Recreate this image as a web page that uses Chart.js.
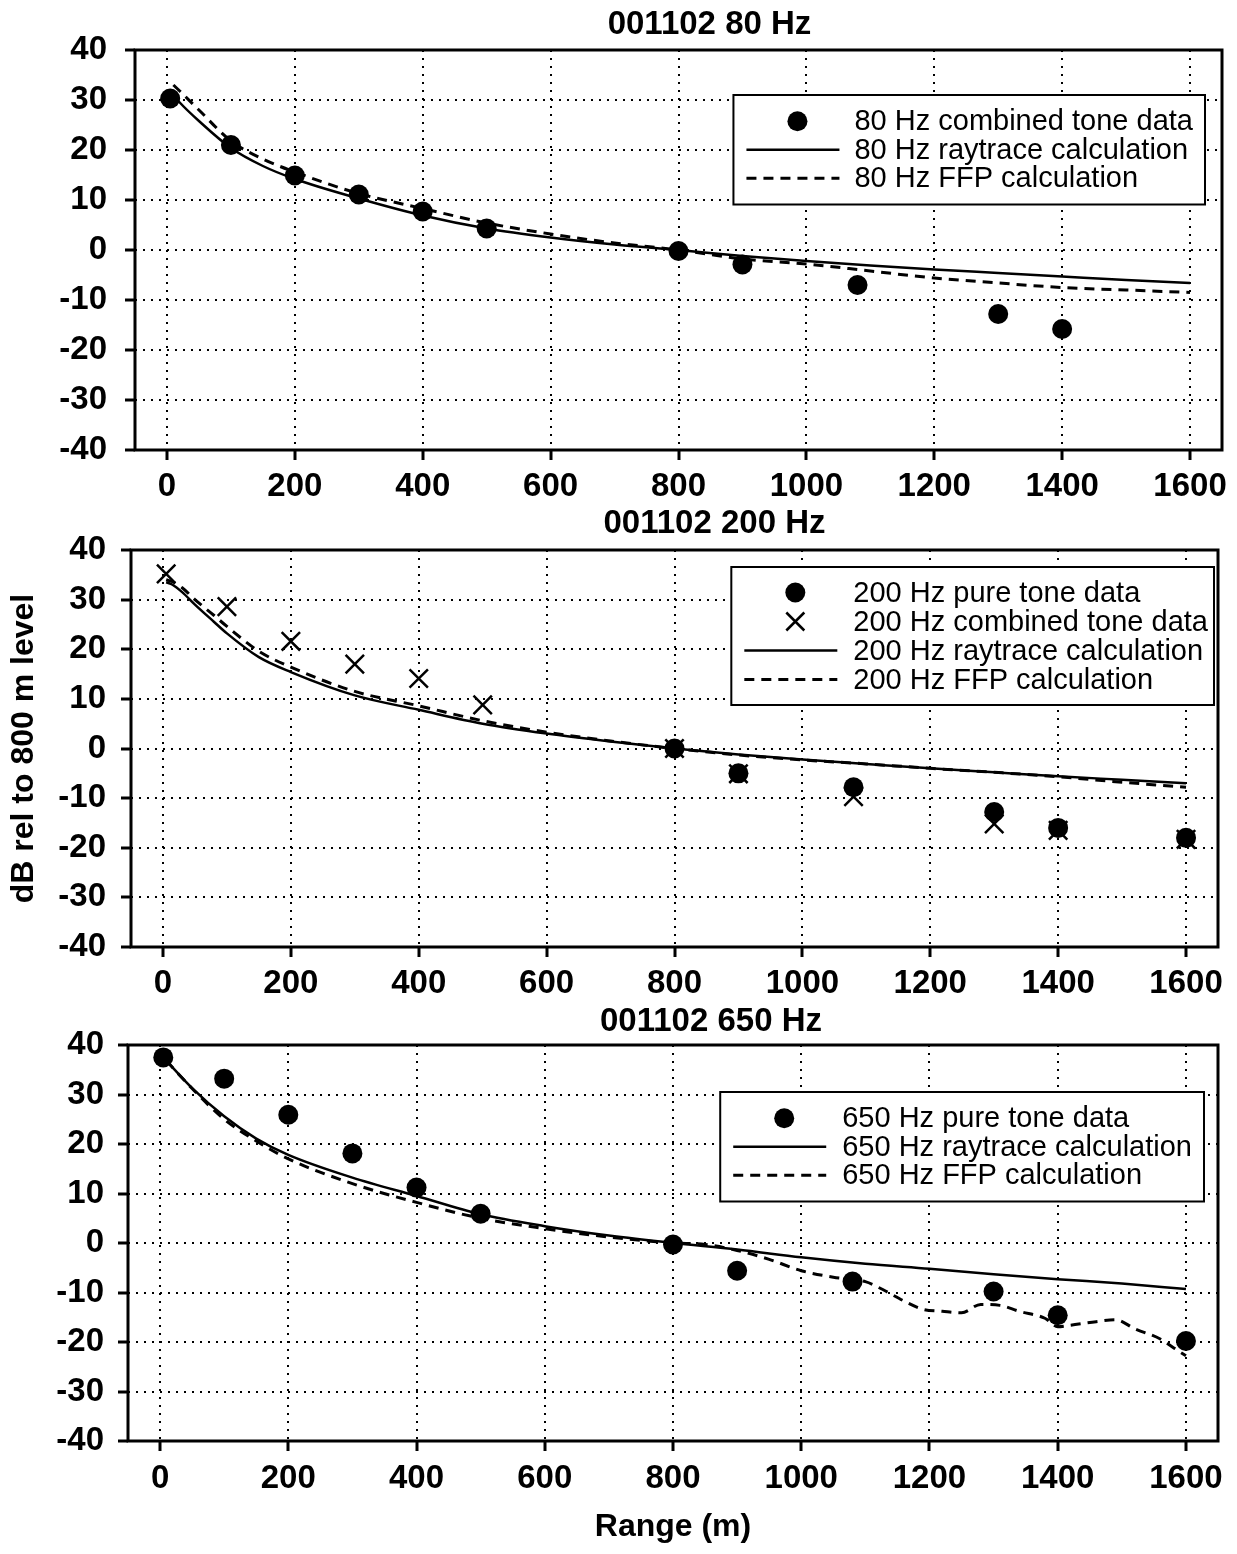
<!DOCTYPE html>
<html>
<head>
<meta charset="utf-8">
<script src="https://cdn.jsdelivr.net/npm/chart.js@4.4.0/dist/chart.umd.min.js"></script>
<style>
  body { margin: 0; background: #fff; }
  #wrap { position: relative; width: 1237px; height: 1554px; }
  canvas { position: absolute; left: 0; }
</style>
</head>
<body>
<div id="wrap">
  <canvas id="c80" width="1237" height="500" style="top:0px"></canvas>
  <canvas id="c200" width="1237" height="498" style="top:500px"></canvas>
  <canvas id="c650" width="1237" height="556" style="top:998px"></canvas>
</div>
<script>
var xTicks = [0, 200, 400, 600, 800, 1000, 1200, 1400, 1600]
var yTicks = [-40, -30, -20, -10, 0, 10, 20, 30, 40]

// 80 Hz
var comb80X = [5, 100, 200, 300, 400, 500, 800, 900, 1080, 1300, 1400]
var comb80Y = [30.3, 21, 14.9, 11.1, 7.7, 4.3, -0.2, -2.9, -7, -12.8, -15.8]
var ray80X = [5, 20, 50, 100, 150, 200, 300, 400, 500, 600, 700, 800, 900, 1000, 1100, 1200, 1300, 1400, 1500, 1600]
var ray80Y = [31.8, 29.5, 25.8, 20.4, 16.8, 14.2, 10.3, 6.9, 4.3, 2.5, 1.1, 0, -1.2, -2.2, -3.1, -3.9, -4.6, -5.3, -6, -6.6]
var ffp80X = [10, 20, 50, 100, 150, 200, 300, 400, 500, 600, 700, 800, 900, 1000, 1100, 1200, 1300, 1400, 1500, 1600]
var ffp80Y = [33, 31.8, 28, 21.8, 18.2, 15.6, 11.3, 8.3, 5.4, 3.2, 1.4, 0, -1.8, -2.8, -4.2, -5.6, -6.6, -7.5, -8, -8.5]

// 200 Hz
var pure200X = [800, 900, 1080, 1300, 1400, 1600]
var pure200Y = [0, -5, -7.8, -12.8, -16, -18]
var comb200X = [5, 100, 200, 300, 400, 500, 800, 900, 1080, 1300, 1400, 1600]
var comb200Y = [35.2, 28.6, 21.6, 17, 14.1, 8.8, 0, -5.1, -9.7, -15.2, -16.5, -18.3]
var ray200X = [5, 15, 30, 50, 80, 100, 150, 200, 300, 400, 500, 600, 700, 800, 900, 1000, 1100, 1200, 1300, 1400, 1500, 1600]
var ray200Y = [33.5, 33, 31.5, 29, 25.5, 23.2, 18.4, 15.4, 10.7, 7.8, 5, 3, 1.4, 0, -1.2, -2.2, -3.1, -4, -4.8, -5.6, -6.3, -7]
var ffp200X = [5, 15, 30, 50, 80, 100, 150, 200, 300, 400, 500, 600, 700, 800, 900, 1000, 1100, 1200, 1300, 1400, 1500, 1600]
var ffp200Y = [34, 33.6, 32.4, 30, 26.8, 24.6, 19.6, 16.4, 11.5, 8.6, 5.6, 3.3, 1.5, 0, -1.3, -2.3, -3.1, -4, -4.8, -5.7, -6.8, -7.8]

// 650 Hz
var pure650X = [5, 100, 200, 300, 400, 500, 800, 900, 1080, 1300, 1400, 1600]
var pure650Y = [37.5, 33.2, 25.9, 18.1, 11.2, 5.9, -0.3, -5.6, -7.8, -9.8, -14.6, -19.8]
var ray650X = [10, 50, 100, 150, 200, 300, 400, 500, 600, 700, 800, 900, 1000, 1100, 1200, 1300, 1400, 1500, 1600]
var ray650Y = [36.8, 31.3, 25.6, 21.1, 17.8, 13.2, 9.5, 5.8, 3.4, 1.5, 0, -1.3, -2.9, -4.2, -5.2, -6.3, -7.3, -8.2, -9.3]
var ffp650X = [10, 50, 100, 150, 200, 300, 400, 500, 600, 700, 800, 850, 900, 950, 1000, 1050, 1100, 1130, 1160, 1190, 1220, 1250, 1280, 1310, 1340, 1380, 1400, 1420, 1460, 1490, 1520, 1560, 1580, 1600]
var ffp650Y = [36.8, 31.2, 25, 20.6, 17, 12, 8.2, 5, 2.9, 1.2, 0, -0.3, -1.5, -3.3, -5.6, -6.9, -7.8, -9.6, -11.7, -13.4, -13.8, -14.1, -12.4, -12.6, -13.8, -15.2, -16.9, -16.6, -15.9, -15.5, -17.3, -19.4, -21.1, -22.8]

var FONT = '"Liberation Sans", Arial, Helvetica, sans-serif'

function pts(xs, ys) {
    return xs.map((x, i) => ({ x: x, y: ys[i] }))
}

function dots(label, xs, ys) {
    return { label: label, data: pts(xs, ys), showLine: false, pointStyle: 'circle',
        pointRadius: 10, backgroundColor: '#000', borderColor: '#000', borderWidth: 0 }
}
function crosses(label, xs, ys) {
    return { label: label, data: pts(xs, ys), showLine: false, pointStyle: 'crossRot',
        pointRadius: 13, backgroundColor: '#000', borderColor: '#000', borderWidth: 2.5 }
}
function curve(label, xs, ys, dashed) {
    return { label: label, data: pts(xs, ys), showLine: true, pointRadius: 0,
        borderColor: '#000', borderWidth: dashed ? 3 : 2.5, borderDash: dashed ? [10, 7] : [],
        cubicInterpolationMode: 'monotone', fill: false }
}

// box round the plot
const frame = {
    id: 'frame',
    afterDatasetsDraw(chart) {
        const { ctx, chartArea: a } = chart
        ctx.save()
        ctx.lineWidth = 3
        ctx.strokeStyle = '#000'
        ctx.strokeRect(a.left, a.top, a.right - a.left, a.bottom - a.top)
        ctx.restore()
    }
}

const panelTitle = {
    id: 'panelTitle',
    afterDraw(chart, args, o) {
        const { ctx, chartArea: a } = chart
        ctx.save()
        ctx.font = 'bold 33px ' + FONT
        ctx.fillStyle = '#000'
        ctx.textAlign = 'center'
        ctx.textBaseline = 'middle'
        ctx.fillText(o.text, (a.left + a.right) / 2 + o.dx, o.y)
        ctx.restore()
    }
}

// legend in a box inside the plot
const boxLegend = {
    id: 'boxLegend',
    afterDraw(chart, args, o) {
        const { ctx, chartArea: a } = chart
        const sets = chart.data.datasets
        ctx.save()
        ctx.font = '29px ' + FONT
        let tw = 0
        sets.forEach(d => { tw = Math.max(tw, ctx.measureText(d.label).width) })
        const w = o.textX + tw + o.padR
        const h = sets.length * o.rowH + o.padV
        const right = a.right - o.right
        const top = a.top + o.top
        const left = right - w
        ctx.fillStyle = '#fff'
        ctx.fillRect(left, top, w, h)
        ctx.lineWidth = 2
        ctx.strokeStyle = '#000'
        ctx.strokeRect(left, top, w, h)
        sets.forEach((d, i) => {
            const cy = top + o.padV / 2 + o.rowH * (i + 0.5)
            ctx.strokeStyle = '#000'
            ctx.fillStyle = '#000'
            if (d.showLine) {
                ctx.lineWidth = d.borderWidth
                ctx.setLineDash(d.borderDash || [])
                ctx.beginPath()
                ctx.moveTo(left + 13, cy)
                ctx.lineTo(left + 106, cy)
                ctx.stroke()
                ctx.setLineDash([])
            } else if (d.pointStyle === 'circle') {
                ctx.beginPath()
                ctx.arc(left + 64, cy, 10, 0, Math.PI * 2)
                ctx.fill()
            } else {
                ctx.lineWidth = 2.5
                ctx.beginPath()
                ctx.moveTo(left + 55, cy - 9); ctx.lineTo(left + 73, cy + 9)
                ctx.moveTo(left + 73, cy - 9); ctx.lineTo(left + 55, cy + 9)
                ctx.stroke()
            }
            ctx.textAlign = 'left'
            ctx.textBaseline = 'middle'
            ctx.fillText(d.label, left + o.textX, cy + 1)
        })
        ctx.restore()
    }
}

function makeChart(id, datasets, cfg) {
    var ctx = document.getElementById(id)
    return new Chart(ctx, {
        type: 'scatter',
        data: { datasets: datasets },
        plugins: [frame, panelTitle, boxLegend],
        options: {
            responsive: false,
            animation: false,
            events: [],
            layout: { padding: { top: cfg.top, left: 0, right: 1237 - cfg.right, bottom: 0 } },
            plugins: {
                legend: { display: false },
                tooltip: { enabled: false },
                panelTitle: { text: cfg.title, dx: cfg.titleDx, y: cfg.titleY },
                boxLegend: cfg.legend
            },
            scales: {
                x: {
                    type: 'linear', min: -50, max: 1650,
                    afterBuildTicks: s => { s.ticks = xTicks.map(v => ({ value: v })) },
                    afterFit: s => { s.height = cfg.h - cfg.bottom },
                    grid: { color: '#000', lineWidth: 2, tickLength: 10, tickWidth: 3,
                        tickColor: '#000', tickBorderDash: [] },
                    border: { display: false, dash: [2, 6] },
                    ticks: { color: '#000', padding: cfg.xPad, maxRotation: 0, autoSkip: false,
                        callback: v => String(v),
                        font: { family: FONT, size: 33, weight: 'bold' } },
                    title: cfg.xTitle ? { display: true, text: cfg.xTitle, color: '#000',
                        padding: { top: 0, bottom: 8 }, font: { family: FONT, size: 32, weight: 'bold' } }
                        : { display: false }
                },
                y: {
                    type: 'linear', min: -40, max: 40,
                    afterBuildTicks: s => { s.ticks = yTicks.map(v => ({ value: v })) },
                    afterFit: s => { s.width = cfg.left },
                    grid: { color: '#000', lineWidth: 2, tickLength: 10, tickWidth: 3,
                        tickColor: '#000', tickBorderDash: [] },
                    border: { display: false, dash: [2, 6] },
                    ticks: { color: '#000', padding: cfg.yPad, callback: v => String(v),
                        font: { family: FONT, size: 33, weight: 'bold' } },
                    title: cfg.yTitle ? { display: true, text: cfg.yTitle, color: '#000',
                        padding: { top: 5, bottom: 0 }, font: { family: FONT, size: 32, weight: 'bold' } }
                        : { display: false }
                }
            }
        }
    })
}

makeChart('c80', [
    dots('80 Hz combined tone data', comb80X, comb80Y),
    curve('80 Hz raytrace calculation', ray80X, ray80Y, false),
    curve('80 Hz FFP calculation', ffp80X, ffp80Y, true)
], { h: 500, top: 50, bottom: 450, left: 135, right: 1222, xPad: 7, yPad: 18,
    title: '001102 80 Hz', titleDx: 31, titleY: 25,
    legend: { right: 17, top: 45, rowH: 28.5, padV: 24, textX: 121, padR: 12 } })

makeChart('c200', [
    dots('200 Hz pure tone data', pure200X, pure200Y),
    crosses('200 Hz combined tone data', comb200X, comb200Y),
    curve('200 Hz raytrace calculation', ray200X, ray200Y, false),
    curve('200 Hz FFP calculation', ffp200X, ffp200Y, true)
], { h: 498, top: 50, bottom: 447, left: 131, right: 1218, xPad: 7, yPad: 15,
    title: '001102 200 Hz', titleDx: 40, titleY: 24, yTitle: 'dB rel to 800 m level',
    legend: { right: 4, top: 17, rowH: 29, padV: 22, textX: 122, padR: 6 } })

makeChart('c650', [
    dots('650 Hz pure tone data', pure650X, pure650Y),
    curve('650 Hz raytrace calculation', ray650X, ray650Y, false),
    curve('650 Hz FFP calculation', ffp650X, ffp650Y, true)
], { h: 556, top: 47, bottom: 443, left: 128, right: 1218, xPad: 8, yPad: 14,
    title: '001102 650 Hz', titleDx: 38, titleY: 24, xTitle: 'Range (m)',
    legend: { right: 14, top: 47, rowH: 28.5, padV: 24, textX: 122, padR: 12 } })
</script>
</body>
</html>
